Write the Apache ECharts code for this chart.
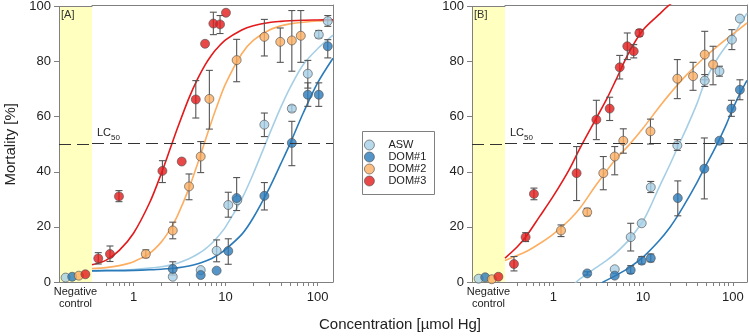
<!DOCTYPE html>
<html>
<head>
<meta charset="utf-8">
<script src="https://cdn.jsdelivr.net/npm/echarts@6/dist/echarts.min.js"></script>
<style>
html, body { margin: 0; padding: 0; background: #fff; }
#chart { width: 749px; height: 336px; }
</style>
</head>
<body>
<div id="chart"></div>
<script>
// groups and colours
var GROUPS = ['ASW', 'DOM#1', 'DOM#2', 'DOM#3'];
var COLORS = ['#a6cfe6', '#2b7bba', '#fdae61', '#e31a1c'];
var LC50 = 50;

// x axis ranges (umol Hg) and ticks
var A_X_RANGE = [0.354, 147];
var B_X_RANGE = [0.29, 144];
var A_TICKS = [0.5, 0.6, 0.7, 0.8, 0.9, 1, 2, 3, 4, 5, 6, 7, 8, 9, 10, 20, 30, 40, 50, 60, 70, 80, 90, 100];
var B_TICKS = [0.4, 0.5, 0.6, 0.7, 0.8, 0.9, 1, 2, 3, 4, 5, 6, 7, 8, 9, 10, 20, 30, 40, 50, 60, 70, 80, 90, 100];
var X_LABELS = [1, 10, 100];

// negative controls, order = GROUPS
var NEG_A = [1.6, 1.9, 2.3, 2.8];
var NEG_B = [1.2, 1.7, 1.0, 1.9];

// measured points: [conc, mortality, errLow, errHigh]
var A_ASW = [[2.67, 1.9], [5.37, 4.3], [8.0, 11.3, 7.3, 15.2], [10.7, 27.8, 23.4, 32.4], [13.4, 29.5],
  [26.4, 56.8, 52.5, 61.0], [52.5, 62.6, 61.5, 63.7], [78.3, 75.2, 70.0, 80.0], [103, 89.3, 88.1, 90.8], [129, 94.2, 92.3, 96.2]];
var A_DOM1 = [[2.67, 4.7, 2.5, 7.3], [5.37, 2.5], [8.0, 4.1], [10.7, 11.2, 6.4, 15.6], [13.2, 30.3, 25.8, 37.7],
  [26.4, 31.1, 26.0, 35.9], [52.5, 50.2, 42.0, 58.0], [78.3, 67.6, 63.4, 71.9], [103, 67.6, 63.4, 71.9], [129, 85.1, 80.9, 87.5]];
var A_DOM2 = [[1.36, 10.1, 8.8, 11.6], [2.67, 18.6, 15.6, 21.6], [4.01, 34.5, 29.7, 39.0], [5.37, 45.3, 39.5, 50.7],
  [6.67, 66.1, 55.2, 76.4], [13.2, 80.1, 72.3, 87.6], [26.4, 88.5, 81.6, 94.8], [39.3, 86.7, 79.3, 91.7],
  [52.5, 87.2, 76.1, 98.0], [65.7, 88.9, 79.3, 98.0]];
var A_DOM3 = [[0.414, 8.5, 6.5, 10.6], [0.555, 10.1, 7.4, 13.0], [0.695, 30.9, 29.0, 33.0], [2.06, 40.1, 35.9, 43.8],
  [3.34, 43.5], [4.75, 65.9, 59.2, 72.7], [5.99, 86.0], [7.37, 93.3, 89.3, 97.4], [8.71, 93.0, 89.7, 96.2], [10.1, 97.2]];

var B_ASW = [[4.84, 4.6], [7.29, 16.2, 11.2, 21.2], [9.67, 21.2], [12.2, 34.2, 32.3, 36.3], [24.1, 49.3, 47.5, 51.4],
  [48.7, 72.7, 70.6, 74.9], [71.0, 76.1, 74.3, 77.9], [97.7, 87.5, 83.9, 91.1], [120, 95.1]];
var B_DOM1 = [[2.39, 3.1, 2.5, 3.7], [4.84, 2.3], [7.29, 4.3, 3.1, 5.9], [9.67, 7.7, 6.5, 9.2], [12.2, 8.6, 7.3, 10.1],
  [24.4, 30.3, 23.9, 36.5], [48.2, 40.9, 30.0, 52.0], [71.0, 51.0], [96.5, 62.6, 59.8, 65.6], [120, 69.4, 65.8, 73.0]];
var B_DOM2 = [[1.22, 18.6, 16.4, 20.6], [2.39, 25.2, 23.9, 26.6], [3.61, 39.3, 33.3, 45.3], [4.84, 45.3, 38.7, 48.9],
  [6.03, 51.0, 46.5, 55.3], [12.1, 54.4, 49.8, 58.8], [24.1, 73.4, 66.2, 80.3], [36.1, 74.3, 69.2, 79.3],
  [48.7, 82.1, 73.0, 90.5], [60.3, 78.5, 71.2, 85.1]];
var B_DOM3 = [[0.365, 6.5, 4.0, 9.2], [0.492, 16.2, 14.6, 17.8], [0.609, 31.8, 29.7, 33.9], [1.82, 39.3, 29.4, 48.9],
  [3.02, 58.6, 51.4, 65.6], [4.25, 62.6, 58.3, 66.7], [5.5, 77.5, 73.3, 81.8], [6.68, 85.1, 80.3, 89.9],
  [7.88, 83.3, 80.9, 85.7], [9.1, 89.9, 88.7, 91.1]];

// fitted curves
var A_FIT_X = [0.354, 0.5, 0.7, 1, 1.5, 2, 2.5, 3, 4, 5, 6, 7, 8, 10, 15, 20, 30, 40, 50, 70, 100, 147];
var A_FIT_ASW = [4.1, 4.2, 4.3, 4.5, 5.0, 5.5, 6.1, 6.8, 8.4, 10.1, 11.9, 13.8, 15.8, 19.9, 30.0, 39.1, 53.4, 63.2, 70.0, 78.5, 84.2, 89.1];
var A_FIT_DOM1 = [4.0, 4.1, 4.1, 4.2, 4.4, 4.6, 4.9, 5.1, 5.8, 6.6, 7.5, 8.4, 9.5, 11.8, 17.2, 23.2, 34.0, 42.8, 49.8, 61.1, 71.9, 80.8];
var A_FIT_DOM2 = [4.9, 5.2, 5.9, 7.3, 10.4, 14.4, 19.0, 23.9, 33.8, 43.0, 51.0, 57.7, 63.2, 71.5, 82.4, 87.2, 91.0, 92.5, 93.2, 93.8, 94.2, 94.4];
var A_FIT_DOM3 = [6.2, 7.8, 11.4, 17.6, 28.7, 39.1, 48.1, 55.5, 66.4, 73.5, 78.4, 81.8, 84.2, 87.4, 91.0, 92.5, 93.7, 94.1, 94.3, 94.5, 94.6, 94.7];

var B_FIT_ASW_X = [1.5, 2, 3, 4, 5, 7, 10, 12, 15, 20, 25, 30, 40, 50, 70, 100, 120, 144];
var B_FIT_ASW = [-2.5, 1.2, 5.2, 8.0, 10.5, 15.3, 22.0, 27.0, 34.0, 42.5, 49.5, 55.0, 64.5, 73.0, 81.5, 88.5, 93.0, 97.0];
var B_FIT_DOM1_X = [3.3, 3.61, 5, 7, 10, 15, 20, 25, 30, 40, 48.5, 60, 70.9, 85, 100, 120, 144];
var B_FIT_DOM1 = [-1.0, 0, 2.4, 5.2, 9.0, 14.8, 19.8, 24.5, 28.8, 36.0, 41.2, 46.8, 51.5, 57.0, 62.5, 68.0, 72.8];
var B_FIT_DOM2_X = [0.29, 0.5, 0.7, 1, 1.5, 2, 3, 5, 7, 10, 15, 20, 30, 50, 70, 100, 144];
var B_FIT_DOM2 = [7.8, 11.0, 13.8, 17.3, 22.3, 26.8, 35.0, 44.5, 49.5, 55.5, 63.0, 68.0, 74.5, 81.5, 85.5, 89.5, 93.5];
var B_FIT_DOM3_X = [0.29, 0.4, 0.5, 0.7, 1, 1.5, 2, 3, 4, 5, 7, 10, 15, 20, 30];
var B_FIT_DOM3 = [8.6, 12.8, 16.5, 23.5, 31.0, 40.5, 48.5, 59.0, 66.5, 73.0, 83.0, 91.0, 96.5, 100.2, 104.0];

var FONT = 'Liberation Sans, Arial, sans-serif';
var GRAY = '#808080';
var TXT = '#222';

var chart = echarts.init(document.getElementById('chart'));

function zip(xs, ys) {
  return xs.map(function (x, i) { return [x, ys[i]]; });
}

function errBars(name, rows, xi, yi) {
  return {
    type: 'custom', name: name, xAxisIndex: xi, yAxisIndex: yi, z: 3, silent: true,
    data: rows.filter(function (r) { return r.length > 2; }).map(function (r) { return [r[0], r[2], r[3]]; }),
    encode: { x: 0, y: [1, 2] },
    renderItem: function (params, api) {
      var lo = api.coord([api.value(0), api.value(1)]);
      var hi = api.coord([api.value(0), api.value(2)]);
      var w = 3.5;
      var st = { stroke: '#555', lineWidth: 1.1 };
      return {
        type: 'group', children: [
          { type: 'line', shape: { x1: lo[0], y1: lo[1], x2: hi[0], y2: hi[1] }, style: st },
          { type: 'line', shape: { x1: lo[0] - w, y1: lo[1], x2: lo[0] + w, y2: lo[1] }, style: st },
          { type: 'line', shape: { x1: hi[0] - w, y1: hi[1], x2: hi[0] + w, y2: hi[1] }, style: st }
        ]
      };
    }
  };
}

var dash = { type: [12, 6], color: '#333', width: 1.2 };

function panelSeries(neg, rows, fits, negX, logX, yL, yR) {
  var out = [];
  out.push({
    type: 'scatter', name: 'neg', xAxisIndex: negX, yAxisIndex: yL, symbolSize: 9, z: 4,
    data: neg.map(function (v, i) {
      return { value: [i + 1, v], itemStyle: { color: COLORS[i], borderColor: '#505050', borderWidth: 0.8 } };
    }),
    markLine: { silent: true, symbol: 'none', lineStyle: dash, label: { show: false }, data: [{ yAxis: LC50 }] }
  });
  GROUPS.forEach(function (g, i) {
    var line = {
      type: 'line', name: g + ' fit', xAxisIndex: logX, yAxisIndex: yR, data: fits[i],
      showSymbol: false, symbol: 'none', smooth: 0.3, z: 2, clip: true,
      lineStyle: { color: COLORS[i], width: 1.6 }
    };
    if (i === 0) {
      line.markLine = {
        silent: true, symbol: 'none', lineStyle: dash, data: [{ yAxis: LC50 }],
        label: {
          show: true, position: 'insideStartTop', distance: [5, 2],
          formatter: '{a|LC}{b|50}',
          rich: {
            a: { fontSize: 11, fontFamily: FONT, color: TXT, lineHeight: 14, verticalAlign: 'top' },
            b: { fontSize: 8, fontFamily: FONT, color: TXT, lineHeight: 14, verticalAlign: 'bottom' }
          }
        }
      };
    }
    out.push(line);
    out.push(errBars(g + ' err', rows[i], logX, yR));
    out.push({
      type: 'scatter', name: g, xAxisIndex: logX, yAxisIndex: yR, symbolSize: 9, z: 4,
      data: rows[i].map(function (r) { return [r[0], r[1]]; }),
      itemStyle: { color: COLORS[i], borderColor: '#505050', borderWidth: 0.8 }
    });
  });
  return out;
}

function negAxes(grid) {
  return [{
    type: 'value', gridIndex: grid, min: 0, max: 5, position: 'bottom',
    axisLine: { onZero: false, lineStyle: { color: GRAY } }, axisTick: { show: false },
    axisLabel: { show: false }, splitLine: { show: false },
    name: 'Negative\ncontrol', nameLocation: 'middle', nameGap: 4,
    nameTextStyle: { fontSize: 11, lineHeight: 12, color: TXT, fontFamily: FONT, verticalAlign: 'top' }
  }, {
    type: 'value', gridIndex: grid, min: 0, max: 5, position: 'top',
    axisLine: { onZero: false, lineStyle: { color: GRAY } }, axisTick: { show: false },
    axisLabel: { show: false }, splitLine: { show: false }
  }];
}

function logAxes(grid, range, ticks) {
  return [{
    type: 'log', gridIndex: grid, min: range[0], max: range[1], position: 'bottom',
    axisLine: { onZero: false, lineStyle: { color: GRAY } },
    axisTick: { show: true, customValues: ticks, length: 4, lineStyle: { color: GRAY } },
    axisLabel: {
      customValues: X_LABELS, margin: 9, fontSize: 13, color: TXT, fontFamily: FONT,
      formatter: function (v) { return String(Math.round(v)); }
    },
    splitLine: { show: false }
  }, {
    type: 'log', gridIndex: grid, min: range[0], max: range[1], position: 'top',
    axisLine: { onZero: false, lineStyle: { color: GRAY } }, axisTick: { show: false },
    axisLabel: { show: false }, splitLine: { show: false }
  }];
}

function yLeft(grid, name) {
  return {
    type: 'value', gridIndex: grid, min: 0, max: 100, interval: 20, position: 'left',
    axisLine: { show: true, onZero: false, lineStyle: { color: GRAY } },
    axisTick: { show: true, length: 5, lineStyle: { color: GRAY } },
    axisLabel: { margin: 8, fontSize: 13, color: TXT, fontFamily: FONT },
    splitLine: { show: false },
    name: name, nameLocation: 'middle', nameRotate: 90, nameGap: 41,
    nameTextStyle: { fontSize: 15, color: TXT, fontFamily: FONT }
  };
}

function yRight(grid) {
  return {
    type: 'value', gridIndex: grid, min: 0, max: 100, interval: 20, position: 'right',
    axisLine: { show: true, onZero: false, lineStyle: { color: GRAY } },
    axisTick: { show: false }, axisLabel: { show: false }, splitLine: { show: false }
  };
}

var bandColor = '#ffffbf';

var option = {
  animation: false,
  backgroundColor: '#fff',
  textStyle: { fontFamily: FONT },
  grid: [
    { left: 59, top: 5, width: 33, height: 277, show: true, backgroundColor: bandColor, borderWidth: 0 },
    { left: 92, top: 5, width: 241, height: 277 },
    { left: 472, top: 5, width: 33, height: 277, show: true, backgroundColor: bandColor, borderWidth: 0 },
    { left: 505, top: 5, width: 242, height: 277 }
  ],
  xAxis: [].concat(negAxes(0), logAxes(1, A_X_RANGE, A_TICKS), negAxes(2), logAxes(3, B_X_RANGE, B_TICKS)),
  yAxis: [yLeft(0, 'Mortality [%]'), yRight(1), yLeft(2, ''), yRight(3)],
  title: [
    { text: '[A]', left: 61, top: 9, padding: 0, textStyle: { fontSize: 11, fontWeight: 'normal', color: '#333', fontFamily: FONT } },
    { text: '[B]', left: 474, top: 9, padding: 0, textStyle: { fontSize: 11, fontWeight: 'normal', color: '#333', fontFamily: FONT } }
  ],
  legend: {
    orient: 'vertical', left: 364, top: 139, padding: 0, itemWidth: 10, itemHeight: 10, itemGap: 0,
    selectedMode: false,
    textStyle: { fontSize: 11, color: TXT, fontFamily: FONT, lineHeight: 12, padding: [0, 0, 0, 9] },
    data: GROUPS.map(function (g, i) {
      return { name: g, icon: 'circle', itemStyle: { color: COLORS[i], borderColor: '#505050', borderWidth: 0.8 } };
    })
  },
  graphic: [
    { type: 'rect', left: 362, top: 131, shape: { width: 72, height: 63 }, style: { fill: '#fff', stroke: GRAY, lineWidth: 1 }, z: -1 },
    { type: 'text', x: 400, y: 325, style: { text: 'Concentration [\u00b5mol Hg]', fill: TXT, font: '15px ' + FONT, align: 'center', verticalAlign: 'middle' } }
  ],
  series: [].concat(
    panelSeries(NEG_A, [A_ASW, A_DOM1, A_DOM2, A_DOM3],
      [zip(A_FIT_X, A_FIT_ASW), zip(A_FIT_X, A_FIT_DOM1), zip(A_FIT_X, A_FIT_DOM2), zip(A_FIT_X, A_FIT_DOM3)],
      0, 2, 0, 1),
    panelSeries(NEG_B, [B_ASW, B_DOM1, B_DOM2, B_DOM3],
      [zip(B_FIT_ASW_X, B_FIT_ASW), zip(B_FIT_DOM1_X, B_FIT_DOM1), zip(B_FIT_DOM2_X, B_FIT_DOM2), zip(B_FIT_DOM3_X, B_FIT_DOM3)],
      4, 6, 2, 3)
  )
};

chart.setOption(option);
</script>
</body>
</html>
